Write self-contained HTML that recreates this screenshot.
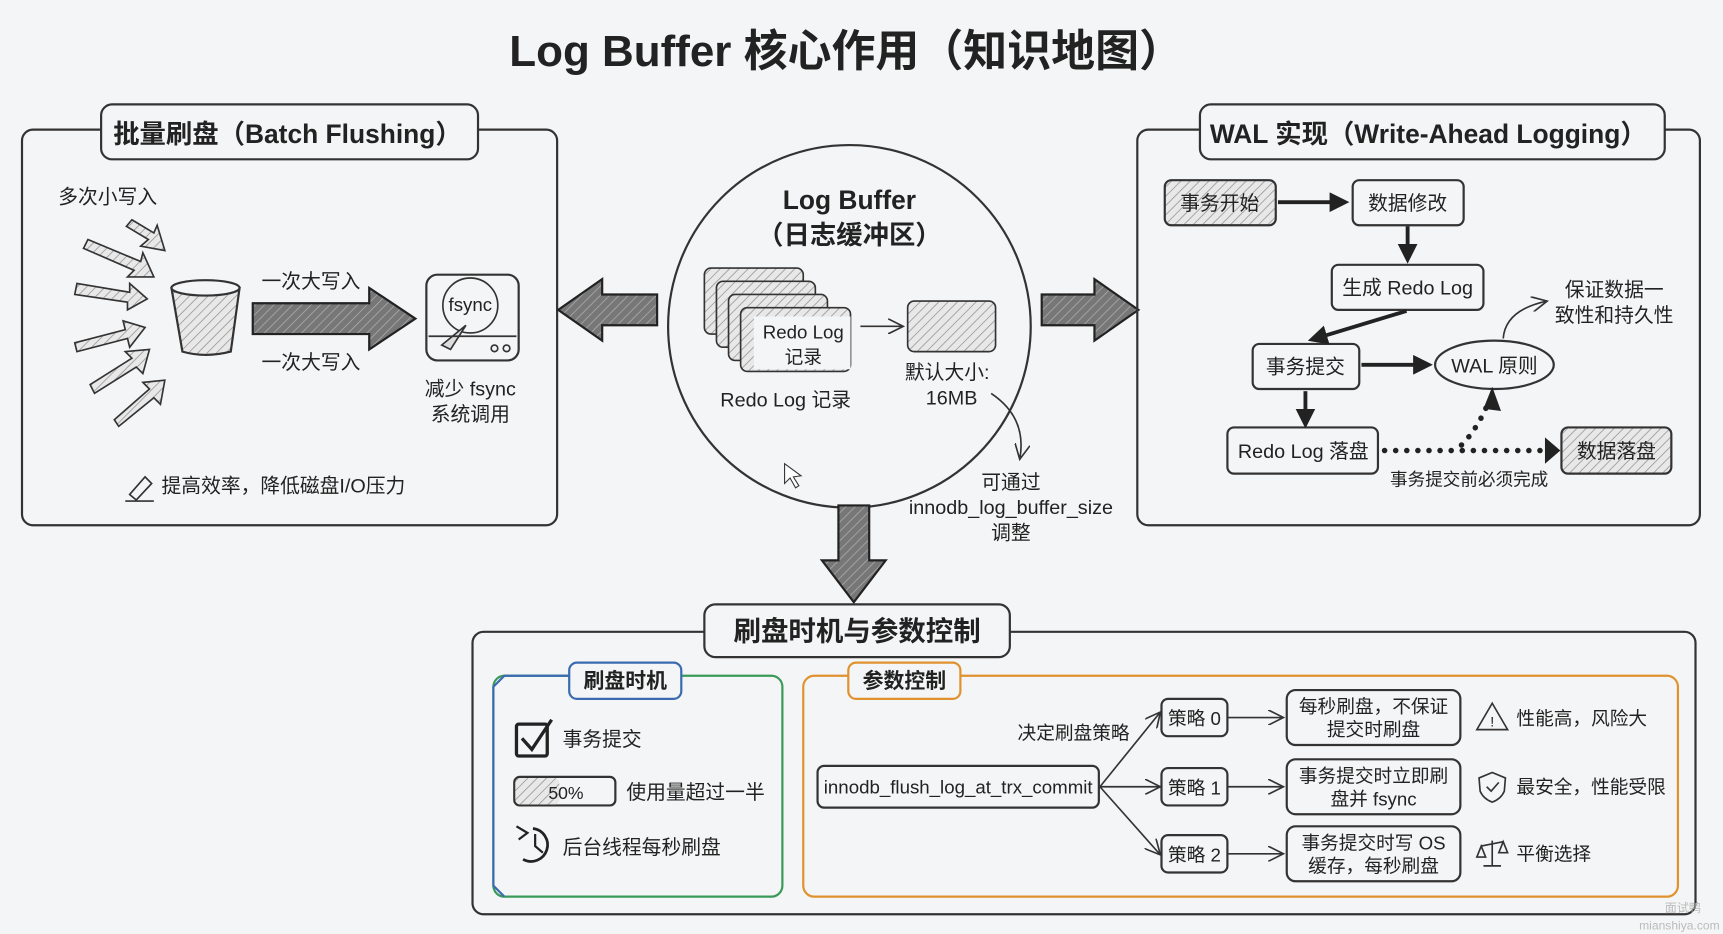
<!DOCTYPE html>
<html><head><meta charset="utf-8"><style>
html,body{margin:0;padding:0;background:#f4f5f6;}
svg{display:block;}
text{font-family:"Liberation Sans","Noto Sans CJK SC",sans-serif;fill:#222;}
.b{font-weight:bold;}
</style></head><body>
<svg width="1723" height="934" viewBox="0 0 1568 850" xmlns="http://www.w3.org/2000/svg">
<defs>
<pattern id="h" width="6" height="6" patternUnits="userSpaceOnUse" patternTransform="rotate(45)"><rect width="6" height="6" fill="#e8e8e8"/><line x1="0" y1="0" x2="0" y2="6" stroke="#999" stroke-width="1.5"/></pattern>
<pattern id="hd" width="6" height="6" patternUnits="userSpaceOnUse" patternTransform="rotate(45)"><rect width="6" height="6" fill="#777"/><line x1="0" y1="0" x2="0" y2="6" stroke="#aaa" stroke-width="1.5"/></pattern>
<marker id="ah" markerWidth="10" markerHeight="10" refX="8" refY="5" orient="auto" markerUnits="userSpaceOnUse"><path d="M0,0 L10,5 L0,10 z" fill="#222"/></marker>
<marker id="ab" markerWidth="18" markerHeight="18" refX="14" refY="9" orient="auto" markerUnits="userSpaceOnUse"><path d="M0,0 L18,9 L0,18 z" fill="#222"/></marker>
<marker id="ao" markerWidth="16" markerHeight="14" refX="14" refY="7" orient="auto" markerUnits="userSpaceOnUse"><path d="M0,0 L14,7 L0,14" fill="none" stroke="#333" stroke-width="1.5"/></marker>
</defs>
<rect width="1568" height="850" fill="#f4f5f6"/>
<text x="770" y="60" text-anchor="middle" class="b" font-size="40">Log Buffer 核心作用（知识地图）</text>

<!-- Left panel -->
<rect x="20" y="118" width="487" height="360" rx="10" fill="none" stroke="#333" stroke-width="2"/>
<rect x="92" y="95" width="343" height="50" rx="10" fill="#f4f5f6" stroke="#333" stroke-width="2"/>
<text x="103" y="130" class="b" font-size="24">批量刷盘（Batch Flushing）</text>
<text x="53" y="185" font-size="18">多次小写入</text>
<g fill="url(#h)" stroke="#333" stroke-width="1.5">
<path d="M120,200 L140,212 L143,205 L150,228 L128,224 L135,218 L115,206z"/>
<path d="M80,218 L128,238 L130,230 L140,252 L116,252 L122,246 L76,226z"/>
<path d="M70,258 L118,266 L118,258 L134,272 L116,282 L116,275 L68,268z"/>
<path d="M68,312 L114,300 L112,292 L132,298 L118,316 L116,308 L70,320z"/>
<path d="M82,350 L120,326 L114,320 L136,318 L130,340 L124,334 L86,358z"/>
<path d="M104,382 L136,354 L130,348 L150,346 L146,368 L140,362 L108,388z"/>
</g>
<path d="M156,262 Q187,250 218,262 L210,320 Q187,326 166,320z" fill="url(#h)" stroke="#333" stroke-width="2"/>
<ellipse cx="187" cy="262" rx="31" ry="7" fill="#f4f5f6" stroke="#333" stroke-width="2"/>
<path d="M230,276 L336,276 L336,262 L378,290 L336,318 L336,304 L230,304z" fill="url(#hd)" stroke="#222" stroke-width="2"/>
<text x="238" y="262" font-size="18">一次大写入</text>
<text x="238" y="336" font-size="18">一次大写入</text>
<rect x="388" y="250" width="84" height="78" rx="10" fill="#f4f5f6" stroke="#333" stroke-width="2"/>
<circle cx="428" cy="278" r="25" fill="none" stroke="#333" stroke-width="1.5"/>
<text x="428" y="283" text-anchor="middle" font-size="17">fsync</text>
<path d="M410,318 L424,296 L402,314z" fill="#ddd" stroke="#333" stroke-width="1.5"/>
<line x1="390" y1="306" x2="470" y2="306" stroke="#333" stroke-width="1.5"/>
<circle cx="450" cy="317" r="3" fill="none" stroke="#333" stroke-width="1.5"/><circle cx="461" cy="317" r="3" fill="none" stroke="#333" stroke-width="1.5"/>
<text x="428" y="360" text-anchor="middle" font-size="18">减少 fsync</text>
<text x="428" y="383" text-anchor="middle" font-size="18">系统调用</text>
<path d="M118,450 L132,434 L138,440 L124,455z M114,456 L140,456" fill="none" stroke="#333" stroke-width="1.5"/>
<text x="147" y="448" font-size="18">提高效率，降低磁盘I/O压力</text>

<!-- Center circle -->
<circle cx="773" cy="297" r="165" fill="none" stroke="#333" stroke-width="2"/>
<text x="773" y="190" text-anchor="middle" class="b" font-size="24">Log Buffer</text>
<text x="773" y="222" text-anchor="middle" class="b" font-size="24">（日志缓冲区）</text>
<g fill="url(#h)" stroke="#333" stroke-width="1.5">
<rect x="641" y="244" width="90" height="60" rx="6"/>
<rect x="652" y="256" width="90" height="60" rx="6"/>
<rect x="663" y="268" width="90" height="60" rx="6"/>
<rect x="674" y="280" width="100" height="58" rx="6"/>
</g>
<rect x="686" y="288" width="88" height="48" fill="#f4f5f6" stroke="none"/>
<text x="731" y="308" text-anchor="middle" font-size="17">Redo Log</text>
<text x="731" y="331" text-anchor="middle" font-size="17">记录</text>
<text x="715" y="370" text-anchor="middle" font-size="18">Redo Log 记录</text>
<line x1="783" y1="297" x2="822" y2="297" stroke="#333" stroke-width="1.5" marker-end="url(#ao)"/>
<rect x="826" y="274" width="80" height="46" rx="6" fill="url(#h)" stroke="#333" stroke-width="1.5"/>
<text x="862" y="345" text-anchor="middle" font-size="18">默认大小:</text>
<text x="866" y="368" text-anchor="middle" font-size="18">16MB</text>
<path d="M902,358 Q935,380 928,418" fill="none" stroke="#333" stroke-width="1.5" marker-end="url(#ao)"/>
<text x="920" y="445" text-anchor="middle" font-size="18">可通过</text>
<text x="920" y="468" text-anchor="middle" font-size="18">innodb_log_buffer_size</text>
<text x="920" y="491" text-anchor="middle" font-size="18">调整</text>
<!-- big arrows -->
<path d="M598,268 L548,268 L548,254 L508,282 L548,310 L548,296 L598,296z" fill="url(#hd)" stroke="#222" stroke-width="2"/>
<path d="M948,268 L996,268 L996,254 L1036,282 L996,310 L996,296 L948,296z" fill="url(#hd)" stroke="#222" stroke-width="2"/>
<path d="M763,460 L791,460 L791,510 L806,510 L777,548 L748,510 L763,510z" fill="url(#hd)" stroke="#222" stroke-width="2"/>
<path d="M714,422 L714,440 L719,435 L724,444 L727,442 L722,434 L729,433z" fill="#fff" stroke="#333" stroke-width="1"/>

<!-- Right panel -->
<rect x="1035" y="118" width="512" height="360" rx="10" fill="none" stroke="#333" stroke-width="2"/>
<rect x="1092" y="95" width="423" height="50" rx="10" fill="#f4f5f6" stroke="#333" stroke-width="2"/>
<text x="1101" y="130" class="b" font-size="24">WAL 实现（Write-Ahead Logging）</text>
<g stroke="#333" stroke-width="2">
<rect x="1060" y="164" width="101" height="41" rx="6" fill="url(#h)"/>
<rect x="1231" y="164" width="101" height="41" rx="6" fill="#f4f5f6"/>
<rect x="1212" y="241" width="138" height="41" rx="6" fill="#f4f5f6"/>
<rect x="1140" y="313" width="97" height="41" rx="6" fill="#f4f5f6"/>
<ellipse cx="1360" cy="332" rx="54" ry="22" fill="#f4f5f6"/>
<rect x="1117" y="389" width="137" height="42" rx="6" fill="#f4f5f6"/>
<rect x="1421" y="389" width="100" height="42" rx="6" fill="url(#h)"/>
</g>
<text x="1110" y="191" text-anchor="middle" font-size="18">事务开始</text>
<text x="1281" y="191" text-anchor="middle" font-size="18">数据修改</text>
<text x="1281" y="268" text-anchor="middle" font-size="18">生成 Redo Log</text>
<text x="1188" y="340" text-anchor="middle" font-size="18">事务提交</text>
<text x="1360" y="339" text-anchor="middle" font-size="18">WAL 原则</text>
<text x="1186" y="417" text-anchor="middle" font-size="18">Redo Log 落盘</text>
<text x="1471" y="417" text-anchor="middle" font-size="18">数据落盘</text>
<g stroke="#222" stroke-width="3.5" fill="none">
<line x1="1163" y1="184" x2="1224" y2="184" marker-end="url(#ab)"/>
<line x1="1281" y1="206" x2="1281" y2="236" marker-end="url(#ab)"/>
<line x1="1280" y1="283" x2="1194" y2="309" marker-end="url(#ab)"/>
<line x1="1239" y1="332" x2="1300" y2="332" marker-end="url(#ab)"/>
<line x1="1188" y1="356" x2="1188" y2="386" marker-end="url(#ab)"/>
</g>
<g stroke="#222" stroke-width="5" stroke-linecap="round" stroke-dasharray="0.1 10" fill="none">
<line x1="1260" y1="410" x2="1408" y2="410"/>
<path d="M1330,405 Q1345,390 1355,365"/>
</g>
<path d="M1406,398 L1420,410 L1406,422z" fill="#222"/>
<path d="M1350,372 L1358,352 L1366,374z" fill="#222"/>
<text x="1337" y="442" text-anchor="middle" font-size="16">事务提交前必须完成</text>
<path d="M1368,308 Q1370,282 1408,274" fill="none" stroke="#333" stroke-width="1.5" marker-end="url(#ao)"/>
<text x="1469" y="270" text-anchor="middle" font-size="18">保证数据一</text>
<text x="1469" y="293" text-anchor="middle" font-size="18">致性和持久性</text>

<!-- Bottom panel -->
<rect x="430" y="575" width="1113" height="257" rx="10" fill="none" stroke="#333" stroke-width="2"/>
<rect x="641" y="550" width="278" height="48" rx="10" fill="#f4f5f6" stroke="#333" stroke-width="2"/>
<text x="780" y="583" text-anchor="middle" class="b" font-size="25">刷盘时机与参数控制</text>
<rect x="449" y="615" width="263" height="201" rx="10" fill="none" stroke="#3a9a5a" stroke-width="2"/>
<path d="M459,816 L449,806 L449,625 L459,615 L520,615" fill="none" stroke="#3a6bb0" stroke-width="2"/>
<rect x="518" y="603" width="102" height="33" rx="7" fill="#f4f5f6" stroke="#3a6bb0" stroke-width="2"/>
<text x="569" y="626" text-anchor="middle" class="b" font-size="19">刷盘时机</text>
<rect x="470" y="659" width="28" height="29" rx="2" fill="none" stroke="#222" stroke-width="3"/>
<path d="M475,672 L484,682 L502,655" fill="none" stroke="#222" stroke-width="3"/>
<text x="512" y="679" font-size="18">事务提交</text>
<rect x="468" y="707" width="92" height="26" rx="5" fill="none" stroke="#333" stroke-width="2"/>
<rect x="469" y="708" width="40" height="24" rx="4" fill="url(#h)"/>
<text x="515" y="727" text-anchor="middle" font-size="16">50%</text>
<text x="570" y="727" font-size="18">使用量超过一半</text>
<path d="M485,754 A15,15 0 1 1 476,782" fill="none" stroke="#222" stroke-width="2.5"/>
<path d="M470,752 L480,758 L472,764" fill="none" stroke="#222" stroke-width="2"/>
<path d="M487,759 L487,770 L494,776" fill="none" stroke="#222" stroke-width="2"/>
<text x="512" y="777" font-size="18">后台线程每秒刷盘</text>

<rect x="731" y="615" width="796" height="201" rx="10" fill="none" stroke="#e0922f" stroke-width="2"/>
<rect x="772" y="603" width="102" height="33" rx="7" fill="#f4f5f6" stroke="#e0922f" stroke-width="2"/>
<text x="823" y="626" text-anchor="middle" class="b" font-size="19">参数控制</text>
<rect x="744" y="697" width="256" height="38" rx="6" fill="#f4f5f6" stroke="#333" stroke-width="2"/>
<text x="872" y="722" text-anchor="middle" font-size="17">innodb_flush_log_at_trx_commit</text>
<text x="977" y="673" text-anchor="middle" font-size="17">决定刷盘策略</text>
<g stroke="#333" stroke-width="1.5" fill="none">
<line x1="1001" y1="716" x2="1056" y2="648" marker-end="url(#ao)"/>
<line x1="1001" y1="716" x2="1056" y2="716" marker-end="url(#ao)"/>
<line x1="1001" y1="716" x2="1056" y2="778" marker-end="url(#ao)"/>
<line x1="1118" y1="653" x2="1168" y2="653" marker-end="url(#ao)"/>
<line x1="1118" y1="716" x2="1168" y2="716" marker-end="url(#ao)"/>
<line x1="1118" y1="777" x2="1168" y2="777" marker-end="url(#ao)"/>
</g>
<g stroke="#333" stroke-width="2" fill="#f4f5f6">
<rect x="1057" y="636" width="60" height="34" rx="6"/>
<rect x="1057" y="699" width="60" height="34" rx="6"/>
<rect x="1057" y="760" width="60" height="34" rx="6"/>
<rect x="1171" y="628" width="158" height="50" rx="8"/>
<rect x="1171" y="691" width="158" height="50" rx="8"/>
<rect x="1171" y="752" width="158" height="50" rx="8"/>
</g>
<text x="1087" y="660" text-anchor="middle" font-size="17">策略 0</text>
<text x="1087" y="723" text-anchor="middle" font-size="17">策略 1</text>
<text x="1087" y="784" text-anchor="middle" font-size="17">策略 2</text>
<g font-size="17" text-anchor="middle">
<text x="1250" y="649">每秒刷盘，不保证</text><text x="1250" y="670">提交时刷盘</text>
<text x="1250" y="712">事务提交时立即刷</text><text x="1250" y="733">盘并 fsync</text>
<text x="1250" y="773">事务提交时写 OS</text><text x="1250" y="794">缓存，每秒刷盘</text>
</g>
<path d="M1358,640 L1372,664 L1344,664z" fill="none" stroke="#333" stroke-width="1.5"/>
<text x="1358" y="661" text-anchor="middle" font-size="13">!</text>
<text x="1380" y="660" font-size="17">性能高，风险大</text>
<path d="M1358,703 L1370,708 L1369,720 Q1366,727 1358,730 Q1350,727 1347,720 L1346,708z" fill="none" stroke="#333" stroke-width="1.5"/>
<path d="M1353,716 L1357,720 L1364,712" fill="none" stroke="#333" stroke-width="1.5"/>
<text x="1380" y="722" font-size="17">最安全，性能受限</text>
<path d="M1358,765 L1358,788 M1350,788 L1366,788 M1348,770 L1368,766 M1348,770 L1344,780 L1352,780z M1368,766 L1364,776 L1372,776z" fill="none" stroke="#333" stroke-width="1.5"/>
<text x="1380" y="783" font-size="17">平衡选择</text>
<text x="1548" y="830" text-anchor="end" font-size="11" fill="#bbb" style="fill:#bbb">面试鸭</text>
<text x="1565" y="846" text-anchor="end" font-size="11" style="fill:#bbb">mianshiya.com</text>
</svg>
</body></html>
